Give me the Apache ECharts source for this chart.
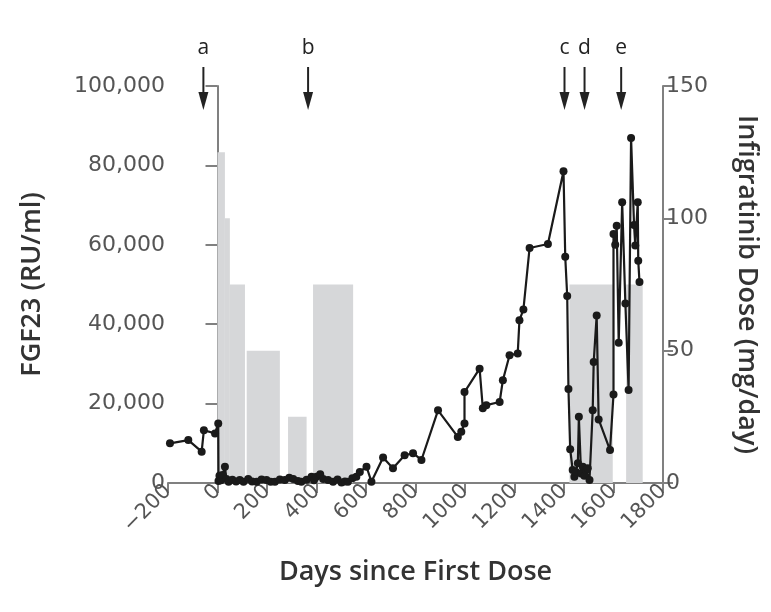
<!DOCTYPE html>
<html>
<head>
<meta charset="utf-8">
<script src="https://cdn.jsdelivr.net/npm/echarts@6/dist/echarts.min.js"></script>
<style>
  html, body { margin: 0; padding: 0; background: #fff; }
  #chart { width: 771px; height: 612px; }
</style>
</head>
<body>
<div id="chart"></div>
<script>
// FGF23 measurements (days since first dose, RU/ml)
const fgfDays = [-192, -118, -64, -55, -10, 3,
  4, 8, 14, 20, 30, 36, 45, 60, 75, 90, 105, 124, 140, 158, 178, 198, 215, 232, 252, 272,
  290, 306, 325, 339, 360, 380, 390, 400, 415, 427, 447, 467, 485, 501, 515, 527, 545, 561,
  575, 602, 622, 669, 709, 756, 790, 824, 891, 971, 985, 998, 998, 1059, 1072, 1086, 1140,
  1153, 1180, 1213, 1220, 1236, 1261, 1335, 1398, 1405, 1413, 1418, 1425, 1435, 1442, 1448,
  1456, 1460, 1469, 1476, 1482, 1489, 1496, 1503, 1516, 1520, 1532, 1540, 1586, 1600, 1600,
  1607, 1613, 1621, 1635, 1648, 1661, 1671, 1683, 1688, 1698, 1700, 1705];
const fgfValues = [10000, 10800, 7900, 13300, 12500, 15000,
  500, 1800, 700, 2000, 4100, 1000, 300, 800, 400, 750, 300, 1000, 400, 330, 900, 750, 300, 330, 900, 750,
  1300, 1000, 500, 330, 800, 1600, 700, 1600, 2200, 1000, 750, 330, 900, 100, 400, 300, 1200, 1600,
  2800, 4100, 330, 6400, 3700, 7000, 7500, 5800, 18300, 11600, 12900, 15000, 22900, 28800, 18800, 19600, 20400,
  25900, 32200, 32600, 41000, 43700, 59200, 60200, 78500, 57000, 47100, 23700, 8500, 3300, 1600, 2800,
  5000, 16700, 2400, 4100, 1800, 3300, 3700, 750, 18300, 30500, 42200, 16000, 8300, 22300, 62700,
  60000, 64800, 35300, 70700, 45200, 23400, 86900, 65000, 59800, 70700, 56000, 50600];

// Infigratinib dose periods (mg/day)
const doseStart = [0, 30, 50, 118, 285, 386, 1422, 1651];
const doseEnd = [30, 50, 111, 252, 360, 548, 1597, 1718];
const doseValue = [125, 100, 75, 50, 25, 75, 75, 75];

// event arrows
const arrowDays = [-57, 366, 1402, 1483, 1631];
const arrowLabels = ["a", "b", "c", "d", "e"];

const xTicks = [-200, 1800, 200];
const fgfMax = 100000;
const doseMax = 150;

const tickFont = "DejaVu Sans";
const nameFont = "Open Sans";

const chart = echarts.init(document.getElementById("chart"));

const axisColor = "#808080";
const axisLine = { show: true, lineStyle: { color: axisColor, width: 2 } };
const axisTick = { show: true, length: 10, lineStyle: { color: axisColor, width: 2 } };
const nameStyle = { fontFamily: nameFont, fontWeight: 600, fontSize: 27, color: "#333" };

const option = {
  animation: false,
  grid: { left: 168, right: 108, top: 86, bottom: 129 },
  xAxis: {
    type: "value",
    min: xTicks[0],
    max: xTicks[1],
    interval: xTicks[2],
    name: "Days since First Dose",
    nameLocation: "middle",
    nameGap: 76,
    nameTextStyle: nameStyle,
    axisLine: axisLine,
    axisTick: axisTick,
    splitLine: { show: false },
    axisLabel: {
      rotate: 45,
      margin: 5,
      fontFamily: tickFont,
      fontSize: 21,
      color: "#555",
      formatter: function (v) {
        return v < 0 ? "\u2212" + Math.abs(v) : String(v);
      },
    },
  },
  yAxis: [
    {
      type: "value",
      min: 0,
      max: fgfMax,
      interval: 20000,
      name: "FGF23 (RU/ml)",
      nameLocation: "middle",
      nameGap: 122,
      nameTextStyle: nameStyle,
      axisLine: axisLine,
      axisTick: { show: true, length: 12, lineStyle: { color: axisColor, width: 2 } },
      splitLine: { show: false },
      axisLabel: {
        margin: 3,
        fontFamily: tickFont,
        fontSize: 22,
        color: "#555",
        formatter: function (v) {
          return v.toLocaleString("en-US");
        },
      },
    },
    {
      type: "value",
      min: 0,
      max: doseMax,
      interval: 50,
      name: "Infigratinib Dose (mg/day)",
      nameLocation: "middle",
      nameRotate: -90,
      nameGap: 70,
      nameTextStyle: nameStyle,
      axisLine: axisLine,
      axisTick: axisTick,
      splitLine: { show: false },
      axisLabel: { margin: 3, fontFamily: tickFont, fontSize: 22, color: "#555" },
    },
  ],
  series: [
    {
      name: "dose",
      type: "custom",
      yAxisIndex: 1,
      z: 1,
      encode: { x: [0, 1], y: 2 },
      data: doseStart.map((s, i) => [s, doseEnd[i], doseValue[i]]),
      renderItem: function (params, api) {
        const p0 = api.coord([api.value(0), 0]);
        const p1 = api.coord([api.value(1), api.value(2)]);
        return {
          type: "rect",
          shape: { x: p0[0], y: p1[1], width: p1[0] - p0[0], height: p0[1] - p1[1] },
          style: { fill: "#d6d7d9" },
        };
      },
    },
    {
      name: "FGF23",
      type: "line",
      z: 3,
      data: fgfDays.map((d, i) => [d, fgfValues[i]]),
      symbol: "circle",
      symbolSize: 8,
      lineStyle: { color: "#1a1a1a", width: 2.2 },
      itemStyle: { color: "#1a1a1a" },
    },
    {
      name: "events",
      type: "custom",
      z: 4,
      clip: false,
      data: arrowDays.map((d) => [d]),
      encode: { x: 0 },
      renderItem: function (params, api) {
        const p = api.coord([api.value(0), fgfMax]);
        return {
          type: "group",
          children: [
            {
              type: "text",
              style: {
                text: arrowLabels[params.dataIndex],
                x: p[0],
                y: p[1] - 38,
                align: "center",
                verticalAlign: "middle",
                fontFamily: nameFont,
                fontSize: 21,
                fill: "#222",
              },
            },
            {
              type: "line",
              shape: { x1: p[0], y1: p[1] - 19, x2: p[0], y2: p[1] + 10 },
              style: { stroke: "#222", lineWidth: 2 },
            },
            {
              type: "polygon",
              shape: { points: [[p[0] - 5, p[1] + 6], [p[0] + 5, p[1] + 6], [p[0], p[1] + 24]] },
              style: { fill: "#222" },
            },
          ],
        };
      },
    },
  ],
};

chart.setOption(option);
</script>
</body>
</html>
